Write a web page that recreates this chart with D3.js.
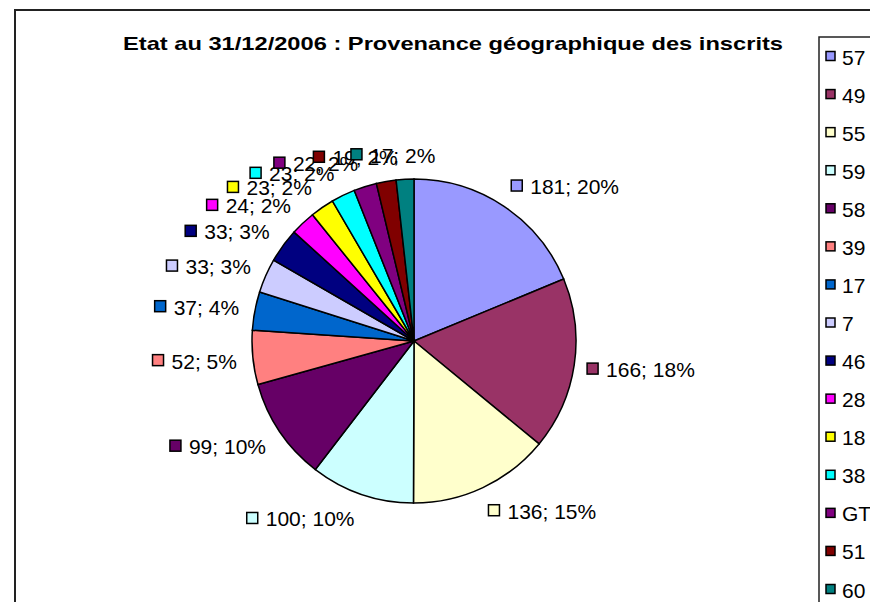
<!DOCTYPE html>
<html lang="fr">
<head>
<meta charset="utf-8">
<script src="https://d3js.org/d3.v7.min.js"></script>
<style>
  body { margin: 0; background: white; }
  svg { font-family: "Liberation Sans", Arial, sans-serif; display: block; }
  .slice { stroke: black; stroke-width: 1.5px; }
  .swatch { stroke: black; stroke-width: 1.5px; }
</style>
</head>
<body>
<svg width="870" height="602"></svg>
<script>
// departements d'origine (legend order = slice order)
var codes   = ["57", "49", "55", "59", "58", "39", "17", "7", "46", "28", "18", "38", "GT", "51", "60"];
var inscrits = [181, 166, 136, 100, 99, 52, 37, 33, 33, 24, 23, 23, 22, 19, 17];
// percentages as printed on the data labels
var pcts    = ["20%", "18%", "15%", "10%", "10%", "5%", "4%", "3%", "3%", "2%", "2%", "2%", "2%", "2%", "2%"];
var colors  = ["#9999FF", "#993366", "#FFFFCC", "#CCFFFF", "#660066", "#FF8080", "#0066CC", "#CCCCFF",
               "#000080", "#FF00FF", "#FFFF00", "#00FFFF", "#800080", "#800000", "#008080"];

var svg = d3.select("svg");

// chart frame (runs off the window on the right and bottom)
svg.append("rect")
    .attr("x", 15).attr("y", 10)
    .attr("width", 1000).attr("height", 1000)
    .attr("fill", "white")
    .attr("stroke", "#222").attr("stroke-width", 2);

svg.append("text")
    .attr("x", 123).attr("y", 49.5)
    .attr("textLength", 660)
    .attr("lengthAdjust", "spacingAndGlyphs")
    .attr("font-size", 19)
    .attr("font-weight", "bold")
    .text("Etat au 31/12/2006 : Provenance géographique des inscrits");

var cx = 414, cy = 341, R = 162;

var data = codes.map((c, i) => ({ code: c, value: inscrits[i], pct: pcts[i], color: colors[i] }));

var pie = d3.pie().value(d => d.value).sort(null);
var arcs = pie(data);
var arc = d3.arc().innerRadius(0).outerRadius(R);
var labelArc = d3.arc().innerRadius(R + 13).outerRadius(R + 13);

var g = svg.append("g").attr("transform", `translate(${cx},${cy})`);

g.selectAll("path.slice")
  .data(arcs)
  .enter().append("path")
    .attr("class", "slice")
    .attr("d", arc)
    .attr("fill", d => d.data.color);

// data labels, placed outside end like Excel
var fs = 21;
var lab = g.selectAll("g.lab")
  .data(arcs)
  .enter().append("g")
    .attr("class", "lab");

lab.each(function(d) {
  var sel = d3.select(this);
  var t = sel.append("text")
      .attr("font-size", fs)
      .attr("dominant-baseline", "central")
      .text(d.data.value + "; " + d.data.pct);
  var tw = t.node().getComputedTextLength();
  var w = 11 + 8 + tw;
  var mid = (d.startAngle + d.endAngle) / 2;
  var p = labelArc.centroid(d);
  var s = Math.sin(mid), c = Math.cos(mid);
  var k = Math.max(-1, Math.min(1, s * 3.5));
  var bx = p[0] + k * w / 2 - w / 2 - (s < 0 ? 3 : 0);
  var by = p[1] - c * 12;
  sel.append("rect")
      .attr("class", "swatch")
      .attr("x", bx).attr("y", by - 5.5)
      .attr("width", 11).attr("height", 11)
      .attr("fill", d.data.color);
  t.attr("x", bx + 19).attr("y", by + 1);
});

// legend (clipped by the window edge)
var legend = svg.append("g");
legend.append("rect")
    .attr("x", 819).attr("y", 37)
    .attr("width", 200).attr("height", 600)
    .attr("fill", "white")
    .attr("stroke", "#222").attr("stroke-width", 1.5);

var ly = d3.scalePoint().domain(codes).range([56, 589]);

var items = legend.selectAll("g.item")
  .data(data)
  .enter().append("g")
    .attr("class", "item")
    .attr("transform", d => `translate(826,${ly(d.code)})`);

items.append("rect")
    .attr("class", "swatch")
    .attr("x", 0).attr("y", -4.5)
    .attr("width", 9).attr("height", 9)
    .attr("fill", d => d.color);

items.append("text")
    .attr("x", 16).attr("y", 1)
    .attr("font-size", 21)
    .attr("dominant-baseline", "central")
    .text(d => d.code);
</script>
</body>
</html>
